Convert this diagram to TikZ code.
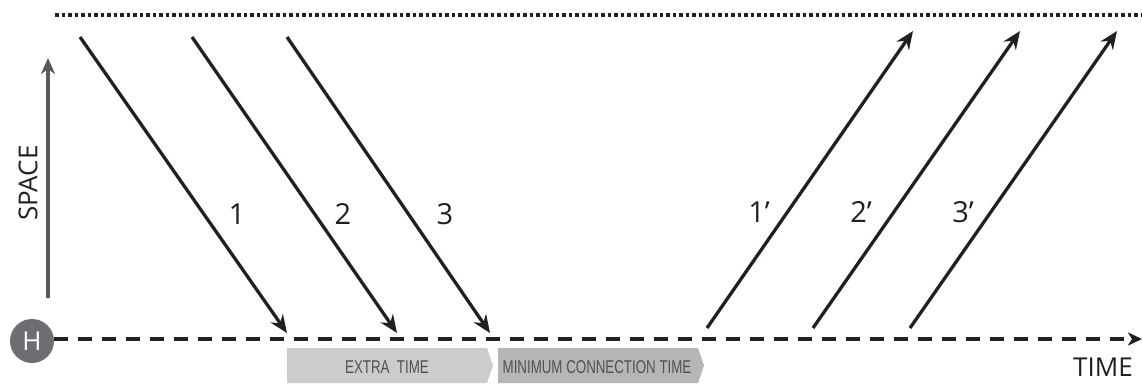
\documentclass[tikz,border=0pt]{standalone}
\usepackage{fontspec}
\setmainfont{Open Sans}
\newfontfamily\condfont[FakeStretch=0.72]{Liberation Sans}
\usetikzlibrary{arrows.meta}
\definecolor{hgray}{HTML}{6D6E71}
\definecolor{axgray}{HTML}{58595B}
\definecolor{boxA}{HTML}{CBCCCE}
\definecolor{boxB}{HTML}{B5B6B8}
\definecolor{txtgray}{HTML}{505050}
\definecolor{ink}{HTML}{231F20}
\tikzset{
  flight/.style={draw=ink, line width=3.3pt, -{Stealth[length=18pt,width=15pt,inset=6pt]}},
  lbl/.style={font=\fontsize{29}{30}\selectfont, text=ink, inner sep=0pt},
  axlbl/.style={font=\fontsize{26}{28}\selectfont, text=ink, inner sep=0pt},
  boxlbl/.style={font=\condfont\fontsize{18.5}{20}\selectfont, text=txtgray, inner sep=0pt},
}
\begin{document}
\begin{tikzpicture}[x=1pt,y=-1pt]
\useasboundingbox (0,0) rectangle (1142,383);
% top dotted line
\coordinate (tl) at (55,15);
\coordinate (tr) at (1142,15);
\draw[ink, line width=3.5pt, dash pattern=on 3.5pt off 3pt] (tl) -- (tr);
% space axis
\coordinate (sb) at (48,298);
\coordinate (st) at (48,58);
\draw[axgray, line width=3.3pt, -{Stealth[length=16pt,width=14pt,inset=5pt]}] (sb) -- (st);
\node[axlbl, rotate=90] (space) at (28,183) {SPACE};
% gray boxes
\fill[boxA] (287,348) -- (487,348) -- (493,365.5) -- (487,383) -- (287,383) -- cycle;
\fill[boxB] (498,348) -- (698,348) -- (704,365.5) -- (698,383) -- (498,383) -- cycle;
\node[boxlbl] (extra) at (387,367) {EXTRA\ \ TIME};
\node[boxlbl] (mct) at (597,367) {MINIMUM CONNECTION TIME};
% hub
\node[circle, fill=hgray, minimum size=44pt, inner sep=0pt, text=white, font=\fontsize{26}{28}\selectfont] (H) at (32,341) {H};
\coordinate (te) at (1142,339);
\draw[ink, line width=3.5pt, dash pattern=on 14pt off 10pt, -{Stealth[length=14pt,width=13pt,inset=4pt]}] (H.east |- te) -- (te);
\node[axlbl] (time) at (1103,367) {TIME};
% arriving flights
\coordinate (s1) at (80,37);  \coordinate (e1) at (287,333);
\coordinate (s2) at (192,37); \coordinate (e2) at (397,333);
\coordinate (s3) at (287,37); \coordinate (e3) at (490,333);
\draw[flight] (s1) -- (e1);
\draw[flight] (s2) -- (e2);
\draw[flight] (s3) -- (e3);
\node[lbl] (l1) at (237,214) {1};
\node[lbl] (l2) at (343,214) {2};
\node[lbl] (l3) at (445,214) {3};
% departing flights
\coordinate (d1) at (707,328);  \coordinate (f1) at (913,31);
\coordinate (d2) at (813,328);  \coordinate (f2) at (1020,31);
\coordinate (d3) at (910,328);  \coordinate (f3) at (1117,31);
\draw[flight] (d1) -- (f1);
\draw[flight] (d2) -- (f2);
\draw[flight] (d3) -- (f3);
\node[lbl] (m1) at (759,212) {1’};
\node[lbl] (m2) at (861,212) {2’};
\node[lbl] (m3) at (963,212) {3’};
\end{tikzpicture}
\end{document}
